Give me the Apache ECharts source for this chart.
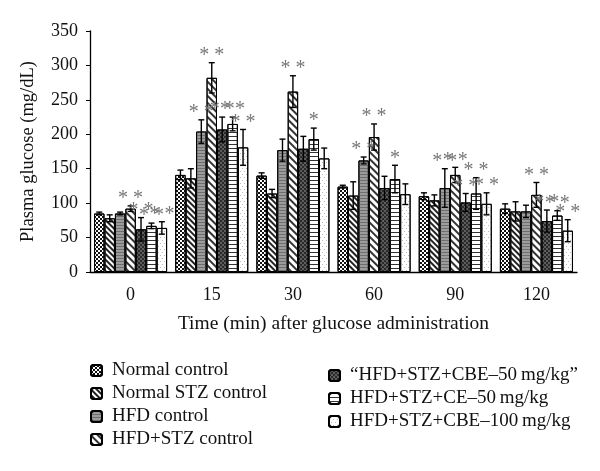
<!DOCTYPE html>
<html>
<head>
<meta charset="utf-8">
<script src="https://cdn.jsdelivr.net/npm/echarts@6/dist/echarts.min.js"></script>
<style>
  html, body { margin: 0; padding: 0; background: #fff; }
  #chart { width: 600px; height: 471px; }
</style>
</head>
<body>
<div id="chart"></div>
<script>
var categories = ['0', '15', '30', '60', '90', '120'];
var seriesNames = ['Normal control', 'Normal STZ control', 'HFD control', 'HFD+STZ control',
  '\u201cHFD+STZ+CBE\u201350\u2009mg/kg\u201d', 'HFD+STZ+CE\u201350\u2009mg/kg', 'HFD+STZ+CBE\u2013100\u2009mg/kg'];

var normalControl = [85, 141, 140, 124, 110, 92];
var normalStz = [78, 136, 114, 111, 104, 88];
var hfdControl = [85, 204, 177, 162, 122, 88];
var hfdStz = [92, 282, 262, 196, 141, 112];
var cbe50 = [62, 207, 179, 122, 101, 74];
var ce50 = [67, 215, 193, 135, 114, 82];
var cbe100 = [64, 181, 165, 113, 99, 60];

var normalControlErr = [2, 7, 4, 2, 5, 7];
var normalStzErr = [5, 14, 6, 20, 8, 14];
var hfdControlErr = [2, 17, 16, 5, 28, 9];
var hfdStzErr = [4, 22, 23, 19, 11, 18];
var cbe50Err = [17, 18, 18, 17, 13, 16];
var ce50Err = [4, 10, 16, 20, 23, 7];
var cbe100Err = [9, 26, 15, 15, 16, 16];

var normalControlStars = ['', '', '', '', '', ''];
var normalStzStars = ['', '', '', '', '', ''];
var hfdControlStars = ['', '**', '', '**', '**', ''];
var hfdStzStars = ['**', '**', '**', '**', '**', '**'];
var cbe50Stars = ['**', '**', '', '', '**', '**'];
var ce50Stars = ['**', '**', '*', '*', '**', '**'];
var cbe100Stars = ['**', '**', '', '', '**', '**'];

var values = [normalControl, normalStz, hfdControl, hfdStz, cbe50, ce50, cbe100];
var errors = [normalControlErr, normalStzErr, hfdControlErr, hfdStzErr, cbe50Err, ce50Err, cbe100Err];
var stars = [normalControlStars, normalStzStars, hfdControlStars, hfdStzStars, cbe50Stars, ce50Stars, cbe100Stars];

var font = 'Liberation Serif';
var catGap = 0.1;

// fill patterns, roughly like the print version
var styles = [
  { color: '#fff', decal: { symbol: 'rect', symbolSize: 1, color: '#111', dashArrayX: [[2, 2], [0, 2, 2, 0]], dashArrayY: [2, 0] } },
  { color: '#fff', decal: { symbol: 'rect', symbolSize: 1, color: '#222', dashArrayX: [1, 0], dashArrayY: [2, 2], rotation: Math.PI / 4 } },
  { color: '#9c9c9c', decal: { symbol: 'rect', symbolSize: 1, color: '#6e6e6e', dashArrayX: [1, 0], dashArrayY: [1, 2] } },
  { color: '#fff', decal: { symbol: 'rect', symbolSize: 1, color: '#333', dashArrayX: [1, 0], dashArrayY: [1.5, 3], rotation: Math.PI / 4 } },
  { color: '#2a2a2a', decal: { symbol: 'circle', symbolSize: 0.7, color: '#bbb', dashArrayX: [[2, 2], [0, 2, 2, 0]], dashArrayY: [2, 0] } },
  { color: '#fff', decal: { symbol: 'rect', symbolSize: 1, color: '#333', dashArrayX: [1, 0], dashArrayY: [1, 3] } },
  { color: '#fff', decal: { symbol: 'circle', symbolSize: 0.8, color: '#666', dashArrayX: [[1, 3], [0, 2, 1, 1]], dashArrayY: [1, 2] } }
];

var series = [];
values.forEach(function (vals, s) {
  series.push({
    name: seriesNames[s],
    type: 'bar',
    data: vals,
    barGap: '0%',
    barCategoryGap: (catGap * 100) + '%',
    itemStyle: Object.assign({ borderColor: '#000', borderWidth: 1 }, styles[s]),
    emphasis: { disabled: true },
    animation: false
  });
});

// error bars and significance marks
var errData = [];
values.forEach(function (vals, s) {
  vals.forEach(function (v, c) {
    errData.push([c, v, errors[s][c], s, stars[s][c]]);
  });
});

series.push({
  type: 'custom',
  data: errData,
  silent: true,
  animation: false,
  z: 10,
  renderItem: function (params, api) {
    var c = api.value(0), v = api.value(1), e = api.value(2), s = api.value(3);
    var star = errData[params.dataIndex][4];
    var band = api.size([1, 0])[0];
    var bw = band * (1 - catGap) / 7;
    var center = api.coord([c, 0])[0];
    var x = center + (s - 3) * bw;
    var top = api.coord([c, v + e])[1];
    var bot = api.coord([c, v - e])[1];
    var cap = 3;
    var ls = { stroke: '#000', lineWidth: 1.4 };
    var children = [
      { type: 'line', shape: { x1: x, y1: top, x2: x, y2: bot }, style: ls },
      { type: 'line', shape: { x1: x - cap, y1: top, x2: x + cap, y2: top }, style: ls },
      { type: 'line', shape: { x1: x - cap, y1: bot, x2: x + cap, y2: bot }, style: ls }
    ];
    if (star) {
      children.push({
        type: 'text',
        style: {
          text: star.split('').join(' '),
          x: x, y: top - 7,
          align: 'center', verticalAlign: 'middle',
          fill: '#777', font: '20px "Liberation Serif"'
        }
      });
    }
    return { type: 'group', children: children };
  }
});

var chart = echarts.init(document.getElementById('chart'));
chart.setOption({
  backgroundColor: '#fff',
  animation: false,
  grid: { left: 90, right: 23, top: 31, bottom: 199, containLabel: false },
  legend: [
    {
      data: seriesNames.slice(0, 4),
      orient: 'vertical', left: 85, top: 356,
      itemWidth: 11, itemHeight: 11, itemGap: 4,
      selectedMode: false,
      textStyle: { fontFamily: font, fontSize: 19, color: '#111', padding: [0, 0, 0, 5] }
    },
    {
      data: seriesNames.slice(4),
      orient: 'vertical', left: 323, top: 361,
      itemWidth: 11, itemHeight: 11, itemGap: 4,
      selectedMode: false,
      textStyle: { fontFamily: font, fontSize: 19, color: '#111', padding: [0, 0, 0, 5] }
    }
  ],
  xAxis: {
    type: 'category',
    data: categories,
    name: 'Time (min) after glucose administration',
    nameLocation: 'middle',
    nameGap: 42,
    nameTextStyle: { fontFamily: font, fontSize: 19.5, color: '#111' },
    axisLine: { lineStyle: { color: '#000', width: 1.3 } },
    axisTick: { length: 4, lineStyle: { color: '#000' } },
    axisLabel: { fontFamily: font, fontSize: 18, color: '#111', margin: 14 }
  },
  yAxis: {
    type: 'value',
    min: 0, max: 350, interval: 50,
    name: 'Plasma glucose (mg/dL)',
    nameLocation: 'middle',
    nameGap: 52,
    nameTextStyle: { fontFamily: font, fontSize: 18.5, color: '#111' },
    axisLine: { show: true, lineStyle: { color: '#000', width: 1.3 } },
    axisTick: { show: true, length: 4, lineStyle: { color: '#000' } },
    axisLabel: { fontFamily: font, fontSize: 18, color: '#111', margin: 12 },
    splitLine: { show: false }
  },
  series: series
});
</script>
</body>
</html>
